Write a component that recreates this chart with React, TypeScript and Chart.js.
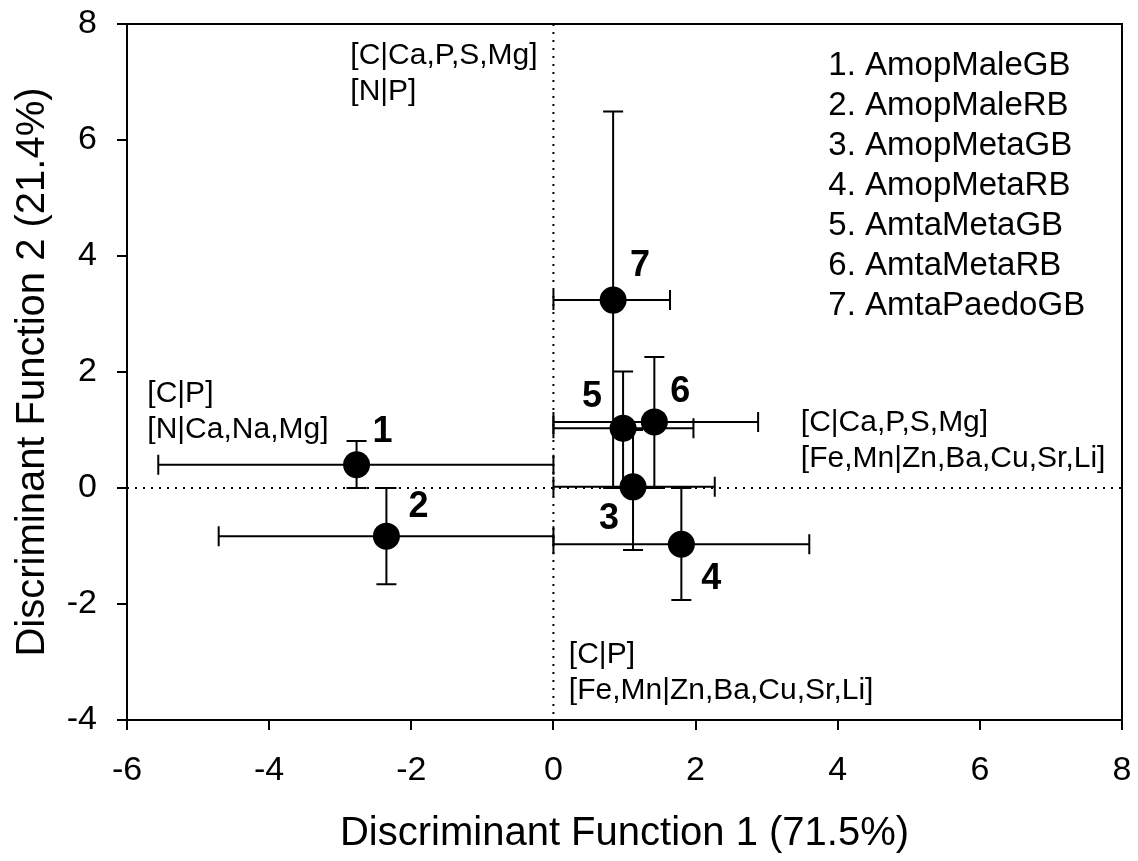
import React, { useEffect, useRef } from "react";
import { Chart, registerables } from "chart.js";

Chart.register(...registerables);

// ---------- data ----------
const GROUP_NAMES = [
  "AmopMaleGB",
  "AmopMaleRB",
  "AmopMetaGB",
  "AmopMetaRB",
  "AmtaMetaGB",
  "AmtaMetaRB",
  "AmtaPaedoGB",
];
const POINT_IDS = ["1", "2", "3", "4", "5", "6", "7"];
const DF1_MEAN = [-2.77, -2.35, 1.12, 1.8, 0.98, 1.42, 0.84];
const DF2_MEAN = [0.4, -0.83, 0.02, -0.97, 1.03, 1.14, 3.24];
const DF1_LOW = [-5.56, -4.71, 0, 0, 0, 0, 0];
const DF1_HIGH = [0, 0, 2.27, 3.6, 1.97, 2.88, 1.64];
const DF2_LOW = [0, -1.66, -1.07, -1.93, 0, 0, 0];
const DF2_HIGH = [0.81, 0, 1.0, 0, 2.01, 2.26, 6.49];
const X_TICKS = [-6, -4, -2, 0, 2, 4, 6, 8];
const Y_TICKS = [-4, -2, 0, 2, 4, 6, 8];
const X_TITLE = "Discriminant Function 1 (71.5%)";
const Y_TITLE = "Discriminant Function 2 (21.4%)";
const QUADRANT_NOTES = [
  ["[C|Ca,P,S,Mg]", "[N|P]"],
  ["[C|P]", "[N|Ca,Na,Mg]"],
  ["[C|Ca,P,S,Mg]", "[Fe,Mn|Zn,Ba,Cu,Sr,Li]"],
  ["[C|P]", "[Fe,Mn|Zn,Ba,Cu,Sr,Li]"],
];

// ---------- layout / style ----------
const FONT = "'Liberation Sans', Arial, Helvetica, sans-serif";
const NOTE_ANCHORS = [
  [-2.858, 7.31],
  [-5.714, 1.483],
  [3.481, 0.991],
  [0.217, -3.017],
];
const NOTE_LINE_GAP = 36;
const NOTE_FONT_SIZE = 30;
const LEGEND_ANCHOR = [3.868, 7.12];
const LEGEND_LINE_GAP = 40;
const LEGEND_FONT_SIZE = 33;
const LABEL_OFFSETS = [
  [26, -33],
  [32, -29],
  [-24, 32],
  [30, 35],
  [-31, -31],
  [26, -30],
  [27, -34],
];
const LABEL_FONT_SIZE = 36;
const CAP_HALF = 10;

const overlayPlugin = {
  id: "overlay",
  beforeDatasetsDraw(chart: any) {
    const { ctx, chartArea: a, scales } = chart;
    const x = scales.x;
    const y = scales.y;
    ctx.save();
    ctx.strokeStyle = "#000";
    ctx.lineWidth = 2;
    // dotted zero lines
    ctx.setLineDash([2, 6]);
    const x0 = x.getPixelForValue(0);
    const y0 = y.getPixelForValue(0);
    ctx.beginPath();
    ctx.moveTo(x0, a.top);
    ctx.lineTo(x0, a.bottom);
    ctx.moveTo(a.left, y0);
    ctx.lineTo(a.right, y0);
    ctx.stroke();
    ctx.setLineDash([]);
    // error bars
    for (let i = 0; i < DF1_MEAN.length; i++) {
      const px = x.getPixelForValue(DF1_MEAN[i]);
      const py = y.getPixelForValue(DF2_MEAN[i]);
      const xl = x.getPixelForValue(DF1_LOW[i]);
      const xh = x.getPixelForValue(DF1_HIGH[i]);
      const yl = y.getPixelForValue(DF2_LOW[i]);
      const yh = y.getPixelForValue(DF2_HIGH[i]);
      ctx.beginPath();
      ctx.moveTo(xl, py);
      ctx.lineTo(xh, py);
      ctx.moveTo(xl, py - CAP_HALF);
      ctx.lineTo(xl, py + CAP_HALF);
      ctx.moveTo(xh, py - CAP_HALF);
      ctx.lineTo(xh, py + CAP_HALF);
      ctx.moveTo(px, yl);
      ctx.lineTo(px, yh);
      ctx.moveTo(px - CAP_HALF, yl);
      ctx.lineTo(px + CAP_HALF, yl);
      ctx.moveTo(px - CAP_HALF, yh);
      ctx.lineTo(px + CAP_HALF, yh);
      ctx.stroke();
    }
    ctx.restore();
  },
  afterDraw(chart: any) {
    const { ctx, chartArea: a, scales } = chart;
    const x = scales.x;
    const y = scales.y;
    ctx.save();
    ctx.fillStyle = "#000";
    ctx.strokeStyle = "#000";
    // frame
    ctx.lineWidth = 2;
    ctx.strokeRect(a.left, a.top, a.right - a.left, a.bottom - a.top);
    // point labels
    ctx.font = `bold ${LABEL_FONT_SIZE}px ${FONT}`;
    ctx.textAlign = "center";
    ctx.textBaseline = "middle";
    for (let i = 0; i < POINT_IDS.length; i++) {
      const px = x.getPixelForValue(DF1_MEAN[i]) + LABEL_OFFSETS[i][0];
      const py = y.getPixelForValue(DF2_MEAN[i]) + LABEL_OFFSETS[i][1];
      ctx.fillText(POINT_IDS[i], px, py);
    }
    // quadrant notes
    ctx.font = `${NOTE_FONT_SIZE}px ${FONT}`;
    ctx.textAlign = "left";
    ctx.textBaseline = "alphabetic";
    QUADRANT_NOTES.forEach((lines, k) => {
      const nx = x.getPixelForValue(NOTE_ANCHORS[k][0]);
      const ny = y.getPixelForValue(NOTE_ANCHORS[k][1]);
      lines.forEach((t, j) => ctx.fillText(t, nx, ny + j * NOTE_LINE_GAP));
    });
    // legend list
    ctx.font = `${LEGEND_FONT_SIZE}px ${FONT}`;
    const lx = x.getPixelForValue(LEGEND_ANCHOR[0]);
    const ly = y.getPixelForValue(LEGEND_ANCHOR[1]);
    GROUP_NAMES.forEach((n, i) => {
      ctx.fillText(`${POINT_IDS[i]}. ${n}`, lx, ly + i * LEGEND_LINE_GAP);
    });
    ctx.restore();
  },
};

export default function App() {
  const ref = useRef<HTMLCanvasElement | null>(null);
  useEffect(() => {
    const canvas = ref.current;
    if (!canvas) return;
    const chart = new Chart(canvas, {
      type: "scatter",
      data: {
        datasets: [
          {
            data: DF1_MEAN.map((v, i) => ({ x: v, y: DF2_MEAN[i] })),
            pointRadius: 13.5,
            pointHoverRadius: 13.5,
            backgroundColor: "#000",
            borderColor: "#000",
            borderWidth: 0,
          },
        ],
      },
      options: {
        animation: false,
        responsive: false,
        devicePixelRatio: 1,
        events: [],
        layout: { padding: { top: 24, right: 16, left: 0, bottom: 0 } },
        plugins: {
          legend: { display: false },
          tooltip: { enabled: false },
        },
        scales: {
          x: {
            type: "linear",
            min: -6,
            max: 8,
            afterBuildTicks: (s: any) => {
              s.ticks = X_TICKS.map((v) => ({ value: v }));
            },
            afterFit: (s: any) => {
              s.height = 141;
              s.paddingLeft = 0;
              s.paddingRight = 0;
              s.paddingTop = 0;
              s.paddingBottom = 0;
            },
            grid: {
              display: true,
              drawOnChartArea: false,
              drawTicks: true,
              tickLength: 10,
              color: "#000",
              lineWidth: 2,
            },
            border: { display: true, color: "#000", width: 2 },
            ticks: {
              color: "#000",
              font: { family: FONT, size: 34 },
              padding: 20,
              maxRotation: 0,
              callback: (v: any) => String(v),
            },
            title: {
              display: true,
              text: X_TITLE,
              color: "#000",
              font: { family: FONT, size: 40 },
              padding: { top: 0, bottom: 3 },
            },
          },
          y: {
            type: "linear",
            min: -4,
            max: 8,
            afterBuildTicks: (s: any) => {
              s.ticks = Y_TICKS.map((v) => ({ value: v }));
            },
            afterFit: (s: any) => {
              s.width = 127;
              s.paddingLeft = 0;
              s.paddingRight = 0;
              s.paddingTop = 0;
              s.paddingBottom = 0;
            },
            grid: {
              display: true,
              drawOnChartArea: false,
              drawTicks: true,
              tickLength: 10,
              color: "#000",
              lineWidth: 2,
            },
            border: { display: true, color: "#000", width: 2 },
            ticks: {
              color: "#000",
              font: { family: FONT, size: 34 },
              padding: 20,
              callback: (v: any) => String(v),
            },
            title: {
              display: true,
              text: Y_TITLE,
              color: "#000",
              font: { family: FONT, size: 40 },
              padding: { top: 9, bottom: 0 },
            },
          },
        },
      },
      plugins: [overlayPlugin],
    } as any);
    return () => chart.destroy();
  }, []);
  return (
    <div
      style={{
        position: "fixed",
        left: 0,
        top: 0,
        width: 1138,
        height: 861,
        background: "#fff",
      }}
    >
      <canvas ref={ref} width={1138} height={861} style={{ display: "block" }} />
    </div>
  );
}
